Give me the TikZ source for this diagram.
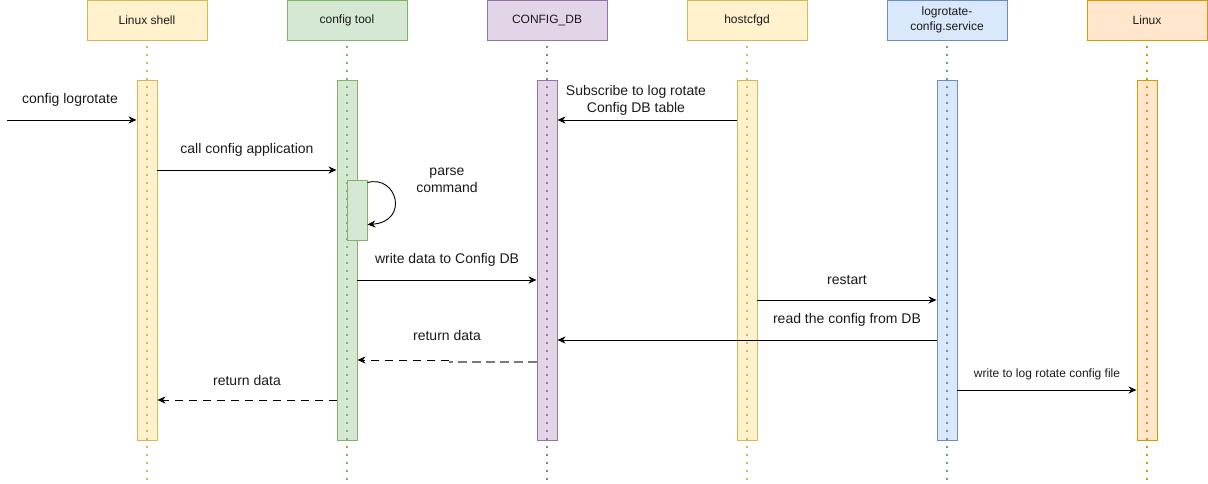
\documentclass[tikz,border=0pt]{standalone}
\usepackage{fontspec}
\setmainfont{Liberation Sans}
\usetikzlibrary{arrows.meta,calc}
\definecolor{yfill}{HTML}{FFF2CC}\definecolor{ydraw}{HTML}{D6B656}
\definecolor{gfill}{HTML}{D5E8D4}\definecolor{gdraw}{HTML}{82B366}
\definecolor{pfill}{HTML}{E1D5E7}\definecolor{pdraw}{HTML}{9673A6}
\definecolor{bfill}{HTML}{DAE8FC}\definecolor{bdraw}{HTML}{6C8EBF}
\definecolor{ofill}{HTML}{FFE6CC}\definecolor{odraw}{HTML}{D79B00}
\definecolor{txt}{HTML}{1A1A1A}
\definecolor{retgray}{HTML}{7A7A7A}
\tikzset{
  head/.style={draw=#1draw, fill=#1fill, line width=0.9pt, minimum width=120pt, minimum height=40pt, inner sep=1pt, align=center, font=\fontsize{12pt}{14.5pt}\selectfont, text=txt},
  actbar/.style={draw=#1draw, fill=#1fill, line width=0.9pt, minimum width=20pt, minimum height=360pt, inner sep=0pt},
  lifeline/.style={draw=#1draw, line width=1.5pt, dash pattern=on 1.4pt off 6.6pt},
  msg/.style={line width=0.9pt, -{Stealth[length=8pt,width=7pt,inset=2.5pt]}},
  ret/.style={msg, dash pattern=on 8pt off 6pt},
  lbl/.style={font=\fontsize{14pt}{17pt}\selectfont, text=txt, align=center, inner sep=0pt},
  slbl/.style={font=\fontsize{12pt}{14pt}\selectfont, text=txt, align=center, inner sep=0pt}
}
\begin{document}
\begin{tikzpicture}[x=1pt,y=-1pt]
\useasboundingbox (0,0) rectangle (1208,483);
% headers
\node[head=y] (h1) at (147,20) {Linux shell};
\node[head=g] (h2) at (347,20) {config tool};
\node[head=p] (h3) at (547,20) {CONFIG\_DB};
\node[head=y] (h4) at (747,20) {hostcfgd};
\node[head=b] (h5) at (947,20) {logrotate-\\config.service};
\node[head=o] (h6) at (1147,20) {Linux};
% activation bars
\node[actbar=y] (a1) at (147,260) {};
\node[actbar=g] (a2) at (347,260) {};
\node[actbar=p] (a3) at (547,260) {};
\node[actbar=y] (a4) at (747,260) {};
\node[actbar=b] (a5) at (947,260) {};
\node[actbar=o] (a6) at (1147,260) {};
\node[draw=gdraw, fill=gfill, line width=0.9pt, minimum width=20pt, minimum height=60pt, inner sep=0pt] (pb) at (357,210) {};
% lifelines
\foreach \h/\c in {h1/y,h2/g,h3/p,h4/y,h5/b,h6/o}{
  \coordinate (\h e) at ($(\h.south)+(0,443)$);
  \draw[lifeline=\c] ($(\h.south)+(0,6)$) -- (\h e);
}
% messages
\coordinate (start) at (7,120);
\draw[msg] (start) -- (a1.west |- start);
\node[lbl] at (70,100) {config logrotate};

\coordinate (y170) at (0,170);
\draw[msg] (a1.east |- y170) -- (a2.west |- y170);
\node[lbl] at (247,150) {call config application};

\draw[msg] ($(pb.north east)+(0,3)$) .. controls ($(pb.north east)+(30,-5)$) and ($(pb.north east)+(42,42)$) .. ($(pb.north east)+(0,45)$);
\node[lbl] at (447,180) {parse\\command};

\coordinate (y120) at (0,120);
\draw[msg] (a4.west |- y120) -- (a3.east |- y120);
\node[lbl] at (636,100.5) {Subscribe to log rotate\\Config DB table};

\coordinate (y280) at (0,280);
\draw[msg] (a2.east |- y280) -- (a3.west |- y280);
\node[lbl] at (447,260) {write data to Config DB};

\coordinate (y300) at (0,300);
\draw[msg] (a4.east |- y300) -- (a5.west |- y300);
\node[lbl] at (847,280) {restart};

\coordinate (y340) at (0,340);
\draw[msg] (a5.west |- y340) -- (a3.east |- y340);
\node[lbl] at (847,320) {read the config from DB};

\coordinate (y361) at (0,361.8);
\coordinate (mid) at (449,361.8);
\draw[line width=1.8pt, draw=retgray, dash pattern=on 9pt off 5pt] (a3.west |- y361) -- (mid);
\draw[ret] ($(mid)+(0,-1.8)$) -- ($(a2.east |- y361)+(0,-1.8)$);
\node[lbl] at (447,335) {return data};

\coordinate (y400) at (0,400);
\draw[ret] (a2.west |- y400) -- (a1.east |- y400);
\node[lbl] at (247,380) {return data};

\coordinate (y390) at (0,390);
\draw[msg] (a5.east |- y390) -- (a6.west |- y390);
\node[slbl] at (1047,374) {write to log rotate config file};
\end{tikzpicture}
\end{document}
